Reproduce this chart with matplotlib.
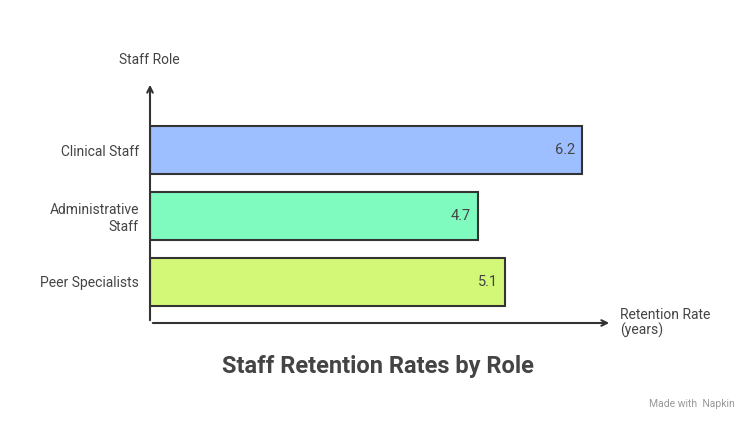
import matplotlib.pyplot as plt

roles = ["Peer Specialists", "Administrative\nStaff", "Clinical Staff"]
years = [5.1, 4.7, 6.2]
colors = ["#D3F877", "#80FBC0", "#9DBFFF"]

plt.rcParams['font.family'] = ['Roboto', 'DejaVu Sans']
fig = plt.figure(figsize=(7.5, 4.32), dpi=100)
W, H = 750, 432
# axes box: x 150..612 px, y 82..323 px
ax = fig.add_axes([150 / W, (H - 323) / H, 462 / W, 241 / H])
ax.set_xlim(0, 462 / 69.7)
ax.set_ylim(-41 / 66, 200 / 66 + 41 / 66 * 0)

ypos = list(range(len(roles)))
ax.barh(ypos, years, height=48 / 66, color=colors, edgecolor="#333333", linewidth=1.5)
for y, v in zip(ypos, years):
    ax.text(v - 0.1, y, f"{v}", ha="right", va="center", fontsize=10.5, color="#444444")
ax.set_yticks(ypos)
ax.set_yticklabels(roles, fontsize=10, color="#444444")
ax.tick_params(axis="y", length=0, pad=8)
ax.set_xticks([])
for s in ax.spines.values():
    s.set_visible(False)

ax.annotate("", xy=(1, 0), xytext=(0, 0), xycoords="axes fraction",
            arrowprops=dict(arrowstyle="->", color="#333333", lw=1.5))
ax.annotate("", xy=(0, 1), xytext=(0, 0), xycoords="axes fraction",
            arrowprops=dict(arrowstyle="->", color="#333333", lw=1.5))

fig.text(149 / W, 1 - 60 / H, "Staff Role", ha="center", va="center", fontsize=10, color="#444444")
fig.text(620 / W, 1 - 323 / H, "Retention Rate\n(years)", ha="left", va="center", fontsize=10,
         color="#444444", linespacing=1.1)
fig.text(378 / W, 1 - 366 / H, "Staff Retention Rates by Role", ha="center", va="center",
         fontsize=17, fontweight="bold", color="#444444")
fig.text(735 / W, 1 - 404 / H, "Made with  Napkin", ha="right", va="center", fontsize=7.5, color="#999999")

fig.savefig("out.png", dpi=100)
